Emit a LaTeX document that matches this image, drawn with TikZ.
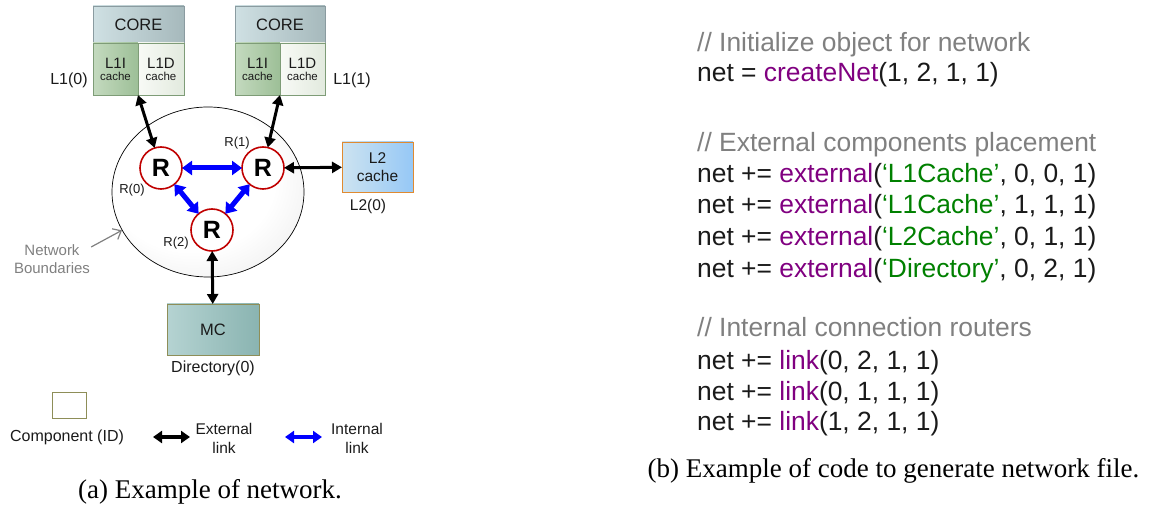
\documentclass[tikz,border=0pt]{standalone}
\usepackage{fontspec}
\setmainfont{Liberation Serif}
\newfontfamily\hv{Liberation Sans}
\usetikzlibrary{arrows.meta,shapes.geometric,shadows}

% font size helper: size and baseline skip in pt
\newcommand\fsz[2]{\fontsize{#1}{#2}\selectfont}

\definecolor{coreA}{HTML}{CFE0E3}
\definecolor{coreB}{HTML}{A6B9BC}
\definecolor{coreEdge}{HTML}{8A9BA0}
\definecolor{liA}{HTML}{C4DABF}
\definecolor{liB}{HTML}{9DBF97}
\definecolor{ldA}{HTML}{F8FAF6}
\definecolor{ldB}{HTML}{E2EADE}
\definecolor{l1Edge}{HTML}{7E9C77}
\definecolor{mcA}{HTML}{B5D3D2}
\definecolor{mcB}{HTML}{8AB4B1}
\definecolor{oliveEdge}{HTML}{8E8E58}
\definecolor{ltA}{HTML}{CDE3F0}
\definecolor{ltB}{HTML}{96C8F6}
\definecolor{ltEdge}{HTML}{E08A30}
\definecolor{routerRed}{HTML}{C00000}
\definecolor{cmt}{HTML}{808080}
\definecolor{kw}{HTML}{800080}
\definecolor{str}{HTML}{008000}
\definecolor{ink}{HTML}{1A1A1A}
\definecolor{netIn}{HTML}{FFFFFF}
\definecolor{netOut}{HTML}{D8D8D8}

\pgfdeclareradialshading{netshade}{\pgfpoint{-8bp}{8bp}}{%
  color(0bp)=(netIn); color(22bp)=(netIn); color(50bp)=(netOut)}

\tikzset{
  comp/.style={rectangle, inner sep=0pt, outer sep=0pt, line width=0.6pt,
    drop shadow={shadow xshift=1.3pt, shadow yshift=-1.3pt, opacity=0.3}},
  corebox/.style={comp, draw=coreEdge, minimum height=37pt,
    left color=coreA, right color=coreB, font=\hv\fsz{16.5}{18}, text=ink},
  l1ibox/.style={comp, draw=l1Edge, minimum height=52pt, font=\hv,
    left color=liA, right color=liB, align=center, text=ink},
  l1dbox/.style={comp, draw=l1Edge, minimum height=52pt, font=\hv,
    left color=ldA, right color=ldB, align=center, text=ink},
  mcbox/.style={comp, draw=oliveEdge, minimum width=92pt, minimum height=51pt,
    left color=mcA, right color=mcB, font=\hv\fsz{16.5}{18}, text=ink},
  l2box/.style={comp, draw=ltEdge, minimum width=71pt, minimum height=50pt,
    left color=ltA, right color=ltB, align=center, font=\hv\fsz{15.5}{18}, text=ink},
  router/.style={circle, minimum size=42pt, inner sep=0pt, outer sep=0pt,
    draw=routerRed, line width=1.6pt, fill=white, font=\hv\bfseries\fsz{25}{27}},
  lbl/.style={inner sep=0pt, font=\hv\fsz{16}{18}, text=ink, align=center},
  rlbl/.style={inner sep=0pt, font=\hv\fsz{13}{15}, text=ink},
  extlink/.style={{Triangle[length=10pt,width=11pt]}-{Triangle[length=10pt,width=11pt]},
    line width=3pt, black},
  intlink/.style={{Triangle[length=10pt,width=14pt]}-{Triangle[length=10pt,width=14pt]},
    line width=5pt, blue},
  pointer/.style={-{Straight Barb[length=7pt,width=12pt]}, line width=1.2pt, cmt},
  codeline/.style={anchor=base west, inner sep=0pt, font=\hv\fsz{26.4}{30}, text=ink},
  caption/.style={anchor=base, inner sep=0pt, font=\fsz{27}{30}, text=black},
}

\begin{document}
\begin{tikzpicture}[x=1pt, y=-1pt]
\useasboundingbox (0,0) rectangle (1153,510);

% ---------------- network boundary ----------------
\node[ellipse, draw=black, line width=0.7pt, minimum width=192pt, minimum height=170pt,
      inner sep=0pt, shading=netshade] (net) at (208,192) {};
\node[lbl, text=cmt, font=\hv\fsz{15}{18}] (bl) at (52,259) {Network\\Boundaries};
\draw[pointer] ([xshift=1pt, yshift=12pt]bl.east) -- (net.204);

% ---------------- cores and L1 caches ----------------
\node[corebox, minimum width=91pt] (core0) at (138.5,24.5) {CORE};
\node[l1ibox, minimum width=45pt] (l1i0) at (115.5,69)
  {\fsz{15}{17}L1I\\\fsz{11.5}{18}cache};
\node[l1dbox, minimum width=46pt] (l1d0) at (161,69)
  {\fsz{15}{17}L1D\\\fsz{11.5}{18}cache};
\node[lbl] (l1lab0) at (69,80) {L1(0)};

\node[corebox, minimum width=90pt] (core1) at (280,24.5) {CORE};
\node[l1ibox, minimum width=45pt] (l1i1) at (257.5,69)
  {\fsz{15}{17}L1I\\\fsz{11.5}{18}cache};
\node[l1dbox, minimum width=45pt] (l1d1) at (302.5,69)
  {\fsz{15}{17}L1D\\\fsz{11.5}{18}cache};
\node[lbl] (l1lab1) at (352,80) {L1(1)};

% ---------------- routers ----------------
\node[router] (r0) at (161,168) {R};
\node[router] (r1) at (263,168) {R};
\node[router] (r2) at (212,230) {R};
\node[rlbl] (r0lab) at (132,190) {R(0)};
\node[rlbl] (r1lab) at (237,143) {R(1)};
\node[rlbl] (r2lab) at (176,243) {R(2)};

% ---------------- L2 cache and memory controller ----------------
\node[l2box] (l2) at (377.5,167) {L2\\cache};
\node[lbl, font=\hv\fsz{15.5}{18}] (l2lab) at (368,206) {L2(0)};
\node[mcbox] (mc) at (213,329.5) {MC};
\node[lbl] (mclab) at (213,368) {Directory(0)};

% ---------------- links ----------------
\draw[extlink] (l1i0.south east) -- (r0);
\draw[extlink] (l1i1.south east) -- (r1);
\draw[extlink] (r1) -- (l2);
\draw[extlink] (r2) -- (mc);
\draw[intlink] (r0) -- (r1);
\draw[intlink] (r0) -- (r2);
\draw[intlink] (r1) -- (r2);

% ---------------- legend ----------------
\node[rectangle, draw=oliveEdge, line width=0.8pt, fill=white, minimum width=34pt,
      minimum height=26pt, inner sep=0pt] (legbox) at (69,405) {};
\node[lbl] (legcomp) at (67,437) {Component (ID)};
\coordinate (ea) at (153,437);
\coordinate (eb) at (190,437);
\draw[{Triangle[length=9pt,width=12pt]}-{Triangle[length=9pt,width=12pt]}, line width=3.6pt, black] (ea) -- (eb);
\node[lbl, font=\hv\fsz{15.5}{19}] (legext) at (224,438) {External\\link};
\coordinate (ia) at (285,437);
\coordinate (ib) at (322,437);
\draw[{Triangle[length=9pt,width=12pt]}-{Triangle[length=9pt,width=12pt]}, line width=3.6pt, blue] (ia) -- (ib);
\node[lbl, font=\hv\fsz{15.5}{19}] (legint) at (357,438) {Internal\\link};

\node[caption] (capa) at (210,498) {(a) Example of network.};

% ---------------- code listing ----------------
\node[codeline, text=cmt] (c1) at (697,51.5) {// Initialize object for network};
\node[codeline] (c2) at (697,81.5) {net = \textcolor{kw}{createNet}(1, 2, 1, 1)};
\node[codeline, text=cmt] (c3) at (697,151.5) {// External components placement};
\node[codeline] (c4) at (697,183) {net += \textcolor{kw}{external}(\textcolor{str}{‘L1Cache’}, 0, 0, 1)};
\node[codeline] (c5) at (697,214) {net += \textcolor{kw}{external}(\textcolor{str}{‘L1Cache’}, 1, 1, 1)};
\node[codeline] (c6) at (697,246) {net += \textcolor{kw}{external}(\textcolor{str}{‘L2Cache’}, 0, 1, 1)};
\node[codeline] (c7) at (697,278) {net += \textcolor{kw}{external}(\textcolor{str}{‘Directory’}, 0, 2, 1)};
\node[codeline, text=cmt] (c8) at (697,336.5) {// Internal connection routers};
\node[codeline] (c9) at (697,369.5) {net += \textcolor{kw}{link}(0, 2, 1, 1)};
\node[codeline] (c10) at (697,400) {net += \textcolor{kw}{link}(0, 1, 1, 1)};
\node[codeline] (c11) at (697,430.5) {net += \textcolor{kw}{link}(1, 2, 1, 1)};

\node[caption] (capb) at (893.5,477) {(b) Example of code to generate network file.};
\end{tikzpicture}
\end{document}
